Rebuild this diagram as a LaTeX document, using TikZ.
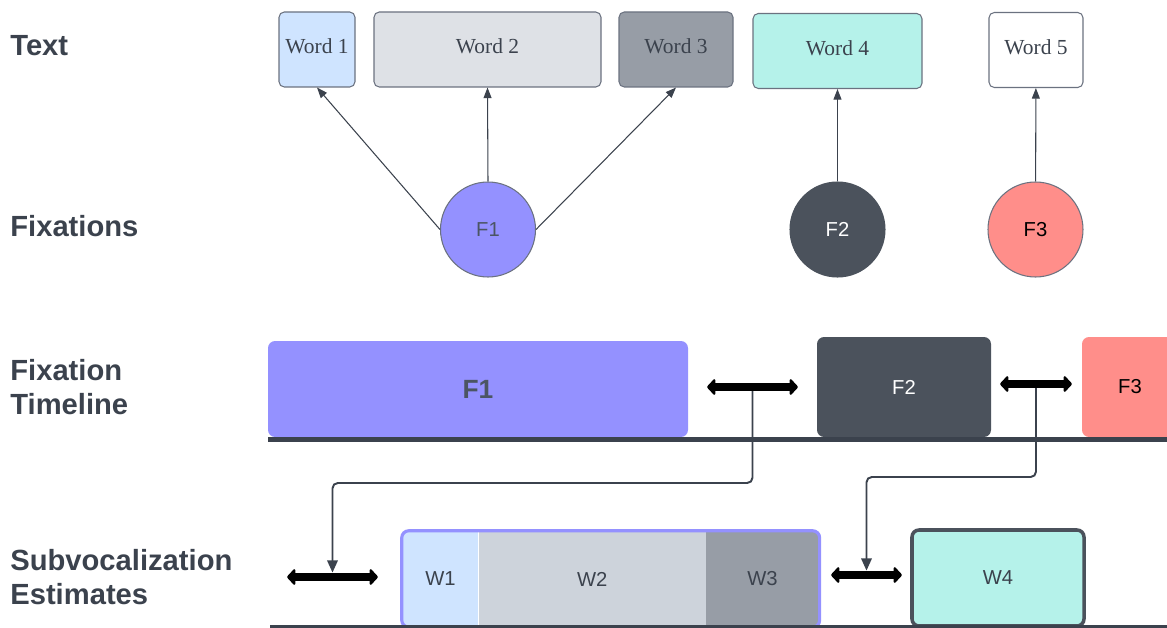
\documentclass[tikz,border=0pt]{standalone}
\usepackage{fontspec}
\setmainfont{Liberation Serif}
\setsansfont{Liberation Sans}
\usetikzlibrary{positioning,calc,fit,arrows.meta,backgrounds}
\definecolor{ink}{HTML}{3B424D}
\definecolor{edgegray}{HTML}{6B7280}
\definecolor{fixblue}{HTML}{9491FF}
\definecolor{fixdark}{HTML}{4B525C}
\definecolor{fixred}{HTML}{FF8E8A}
\definecolor{wblue}{HTML}{CFE4FF}
\definecolor{wlight}{HTML}{DEE1E6}
\definecolor{wmid}{HTML}{CDD3DB}
\definecolor{wdark}{HTML}{979DA6}
\definecolor{wmint}{HTML}{B5F2EA}
\definecolor{ftext}{HTML}{4B5563}
\tikzset{
  row/.style ={anchor=west, align=left, inner sep=0pt, text=ink, font=\sffamily\bfseries\fontsize{16.6}{19.8}\selectfont},
  word/.style={rectangle, rounded corners=3pt, draw=edgegray, line width=0.6pt, text=ink, minimum height=1.5cm, inner sep=0pt, text depth=0.12cm, font=\fontsize{12.2}{14}\selectfont},
  fix/.style ={circle, draw=edgegray, line width=0.6pt, minimum size=1.9cm, inner sep=0pt, font=\sffamily\fontsize{11.5}{13}\selectfont},
  bar/.style ={rectangle, rounded corners=4pt, minimum height=2cm, inner sep=0pt, font=\sffamily\fontsize{11.5}{13}\selectfont},
  seg/.style ={rectangle, minimum height=1.88cm, inner sep=0pt, text=ink, font=\sffamily\fontsize{11.5}{13}\selectfont},
  e/.style   ={-{Triangle[length=6pt,width=4.5pt]}, draw=ink, line width=0.6pt},
  link/.style={-{Triangle[length=7pt,width=6pt]}, draw=ink, line width=1.1pt, rounded corners=3pt, shorten >=2.5pt},
  gap/.style ={{Triangle[length=5pt,width=10.5pt,round,line width=1.2pt]}-{Triangle[length=5pt,width=10.5pt,round,line width=1.2pt]}, draw=black, line width=5pt},
  axis/.style={draw=ink, line width=2.8pt},
}
\begin{document}
\begin{tikzpicture}
\useasboundingbox (0,0) rectangle (23.34,-12.56);
% row labels
\node[row] (ltext) at (0.2,-0.92) {Text};
\node[row] (lfix)  at (0.2,-4.52) {Fixations};
\node[row] (ltime) at (0.2,-7.74) {Fixation\\Timeline};
\node[row] (lsub)  at (0.2,-11.54) {Subvocalization\\Estimates};
% words of the text
\node[word, fill=wblue,  minimum width=1.52cm] (w1) at (6.34,-0.99) {Word 1};
\node[word, fill=wlight, minimum width=4.54cm] (w2) at (9.75,-0.99) {Word 2};
\node[word, fill=wdark,  minimum width=2.28cm] (w3) at (13.52,-0.99) {Word 3};
\node[word, fill=wmint,  minimum width=3.38cm] (w4) at (16.75,-1.02) {Word 4};
\node[word, fill=white,  minimum width=1.88cm] (w5) at (20.72,-1.0) {Word 5};
% fixations
\node[fix, fill=fixblue, text=ftext] (f1) at (9.76,-4.59) {F1};
\node[fix, fill=fixdark, draw=fixdark, text=white] (f2) at (16.75,-4.59) {F2};
\node[fix, fill=fixred, text=black] (f3) at (20.71,-4.59) {F3};
\draw[e] (f1.west) -- (w1.south);
\draw[e] (f1.north) -- (w2.south);
\draw[e] (f1.east) -- (w3.south);
\draw[e] (f2) -- (w4);
\draw[e] (f3) -- (w5);
% fixation timeline
\node[bar, fill=fixblue, text=ftext, minimum width=8.4cm, minimum height=1.92cm,
      font=\sffamily\bfseries\fontsize{15}{18}\selectfont] (t1) at (9.56,-7.78) {F1};
\node[bar, fill=fixdark, text=white, minimum width=3.48cm] (t2) at (18.08,-7.74) {F2};
\node[bar, fill=fixred, text=black, minimum width=1.92cm] (t3) at (22.6,-7.74) {F3};
\coordinate (ta) at (5.36,-8.79);
\coordinate (tb) at (23.34,-8.79);
\draw[axis] (ta) -- (tb);
% gaps between fixations
\coordinate (g1a) at (14.14,-7.74); \coordinate (g1b) at (15.96,-7.74);
\coordinate (g2a) at (20.0,-7.68);  \coordinate (g2b) at (21.44,-7.68);
\coordinate (g3a) at (5.74,-11.54); \coordinate (g3b) at (7.56,-11.54);
\coordinate (g4a) at (16.62,-11.5); \coordinate (g4b) at (18.04,-11.5);
\coordinate (g1m) at ($(g1a)!.5!(g1b)$);
\coordinate (g2m) at ($(g2a)!.5!(g2b)$);
\coordinate (g3m) at ($(g3a)!.5!(g3b)$);
\coordinate (g4m) at ($(g4a)!.5!(g4b)$);
\draw[link] (g1m) -- ++(0,-1.92) -| (g3m);
\draw[link] (g2m) -- ++(0,-1.86) -| (g4m);
\draw[gap] (g1a) -- (g1b);
\draw[gap] (g2a) -- (g2b);
\draw[gap] (g3a) -- (g3b);
\draw[gap] (g4a) -- (g4b);
% subvocalization estimates
\node[seg, fill=wblue, minimum width=1.5cm] (s1) at (8.81,-11.58) {W1};
\node[seg, fill=wmid, minimum width=4.54cm, right=0pt of s1] (s2) {W2};
\node[seg, fill=wdark, minimum width=2.24cm, right=0pt of s2] (s3) {W3};
\node[draw=fixblue, line width=1.8pt, rounded corners=4pt, inner sep=0.5pt, fit=(s1)(s3)] (sblock) {};
\node[seg, fill=wmint, draw=fixdark, line width=2pt, rounded corners=4pt,
      minimum width=3.44cm, minimum height=1.92cm] (s4) at (19.96,-11.56) {W4};
\coordinate (sa) at (5.4,-12.53);
\coordinate (sb) at (23.34,-12.53);
\draw[draw=ink, line width=1.2pt] (sa) -- (sb);
\end{tikzpicture}
\end{document}
